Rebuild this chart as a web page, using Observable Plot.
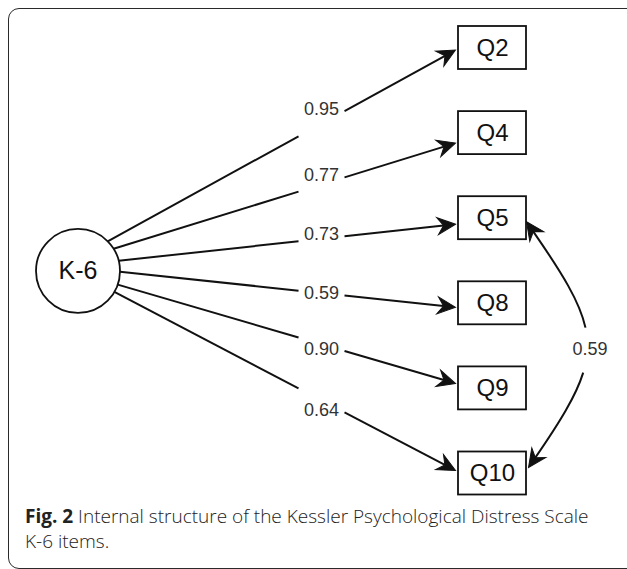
<!DOCTYPE html>
<html>
<head>
<meta charset="utf-8">
<script src="https://cdn.jsdelivr.net/npm/d3@7"></script>
<script src="https://cdn.jsdelivr.net/npm/@observablehq/plot@0.6"></script>
<style>
  html, body { margin: 0; padding: 0; background: #fff; overflow: hidden; }
  #page { position: relative; width: 627px; height: 569px; overflow: hidden; }
  #frame { position: absolute; left: 8px; top: 8px; width: 680px; height: 561px;
           border: 1.5px solid #2a2a2a; border-radius: 11px; box-sizing: border-box; }
  #chart { position: absolute; left: 0; top: 0; }
  #caption { position: absolute; left: 25px; top: 504px; width: 590px;
             font-family: "Open Sans", sans-serif; font-size: 19px; line-height: 25px;
             color: #222; font-weight: 300; }
  #caption b { font-weight: 700; }
  .nw { white-space: nowrap; }
</style>
</head>
<body>
<div id="page">
  <div id="frame"></div>
  <div id="chart"></div>
  <div id="caption"><b>Fig. 2</b> Internal structure of the Kessler Psychological Distress Scale <span class="nw">K-6</span> items.</div>
</div>
<script>
// ---- data ----
const latent = "K-6";
const items = ["Q2", "Q4", "Q5", "Q8", "Q9", "Q10"];
const loadings = [0.95, 0.77, 0.73, 0.59, 0.90, 0.64];
const covFrom = "Q5";
const covTo = "Q10";
const covValue = 0.59;

// ---- layout (abstract units: column 0 = latent, column 1 = items; rows) ----
const itemRow = [0, 1, 2, 3, 4, 5];
const latentRow = 2.62;
const labelCol = 0.5875;
const portAngle = [-45, -32, -14, 1, 19, 30];   // where each path leaves the circle (deg)
const tipShift = [2, 10, 6, 4, -5, -3];         // arrow tip offset from box middle (px)
const covTipShift = [3.5, -6];

const xDomain = [0, 1], xRange = [77.5, 492];
const yDomain = [0, 5], yRange = [47.5, 473];
const sx = d3.scaleLinear(xDomain, xRange);
const sy = d3.scaleLinear(yDomain, yRange);

const R = 42, bw = 34, bh = 21.5, headLen = 18, headW = 8.5, notch = 6, gapHalf = 23;
const ink = "#111";

const cx = sx(0), cy = sy(latentRow);
const paths = items.map((q, i) => {
  const a = portAngle[i] * Math.PI / 180;
  const S = [cx + R * Math.cos(a), cy + R * Math.sin(a)];
  const T = [sx(1) - bw - 3, sy(itemRow[i]) + tipShift[i]];
  const dx = T[0] - S[0], dy = T[1] - S[1], len = Math.hypot(dx, dy);
  const ux = dx / len, uy = dy / len;
  const atX = (x) => [x, S[1] + (x - S[0]) * dy / dx];
  const lx = sx(labelCol);
  const G1 = atX(lx - gapHalf), G2 = atX(lx + gapHalf);
  const N = [T[0] - ux * (headLen - notch), T[1] - uy * (headLen - notch)];
  return {item: q, loading: loadings[i], S, G1, G2, N, T,
          rot: Math.atan2(ux, -uy) * 180 / Math.PI, L: [lx, G2[1] - 2]};
});
const segments = paths.flatMap((p) => [{a: p.S, b: p.G1}, {a: p.G2, b: p.N}]);

// covariance curve (cubic Bezier bulging to the right)
const kHandle = 80, mHandle = 115;
const rowOf = (q) => itemRow[items.indexOf(q)];
const C0 = [sx(1) + bw, sy(rowOf(covFrom)) + covTipShift[0]];
const C3 = [sx(1) + bw + 2, sy(rowOf(covTo)) + covTipShift[1]];
function ctrl(P0, P3) {
  const s = P3[1] > P0[1] ? 1 : -1;
  return [P0, [P0[0] + kHandle, P0[1] + s * mHandle], [P3[0] + kHandle, P3[1] - s * mHandle], P3];
}
function bez(P, t) {
  const u = 1 - t;
  const c = [u * u * u, 3 * u * u * t, 3 * u * t * t, t * t * t];
  return [0, 1].map((k) => c[0] * P[0][k] + c[1] * P[1][k] + c[2] * P[2][k] + c[3] * P[3][k]);
}
const lerp = (a, b, t) => [a[0] + (b[0] - a[0]) * t, a[1] + (b[1] - a[1]) * t];
function split(P, t) {
  const p01 = lerp(P[0], P[1], t), p12 = lerp(P[1], P[2], t), p23 = lerp(P[2], P[3], t);
  const p012 = lerp(p01, p12, t), p123 = lerp(p12, p23, t), m = lerp(p012, p123, t);
  return [[P[0], p01, p012, m], [m, p123, p23, P[3]]];
}
function sub(P, ta, tb) {
  const left = split(P, tb)[0];
  return split(left, ta / tb)[1];
}
function tAtY(P, y) {
  let lo = 0, hi = 1;
  for (let k = 0; k < 40; k++) { const m = (lo + hi) / 2; (bez(P, m)[1] < y) ? lo = m : hi = m; }
  return (lo + hi) / 2;
}
const CP = ctrl(C0, C3);
const apex = bez(CP, 0.5);
const covLabel = [apex[0] + 2.5, apex[1] + 5];
const tGap1 = tAtY(CP, covLabel[1] - 22), tGap2 = tAtY(CP, covLabel[1] + 23);
const tTrim0 = (headLen - notch) / (3 * Math.hypot(kHandle, mHandle));
const tTrim1 = 1 - tTrim0;

function covCurve(context) {
  let pts = [];
  return {
    areaStart() {}, areaEnd() {},
    lineStart() { pts = []; },
    point(x, y) { pts.push([x, y]); },
    lineEnd() {
      const P = ctrl(pts[0], pts[pts.length - 1]);
      for (const [ta, tb] of [[tTrim0, tGap1], [tGap2, tTrim1]]) {
        const s = sub(P, ta, tb);
        context.moveTo(s[0][0], s[0][1]);
        context.bezierCurveTo(s[1][0], s[1][1], s[2][0], s[2][1], s[3][0], s[3][1]);
      }
    }
  };
}

const heads = [
  ...paths.map((p) => ({p: p.T, rot: p.rot})),
  {p: C0, rot: Math.atan2(CP[0][0] - CP[1][0], -(CP[0][1] - CP[1][1])) * 180 / Math.PI},
  {p: C3, rot: Math.atan2(CP[3][0] - CP[2][0], -(CP[3][1] - CP[2][1])) * 180 / Math.PI}
];
const vee = {
  draw(ctx, l) {
    ctx.moveTo(0, -l);
    ctx.lineTo(headW, 0);
    ctx.lineTo(0, -notch);
    ctx.lineTo(-headW, 0);
    ctx.closePath();
  }
};

const ix = (v) => sx.invert(v), iy = (v) => sy.invert(v);
const diagramFont = "Liberation Sans, Arial, Helvetica, sans-serif";

const chart = Plot.plot({
  width: 627,
  height: 500,
  margin: 0,
  x: {domain: xDomain, range: xRange, axis: null},
  y: {domain: yDomain, range: yRange, axis: null},
  style: {background: "transparent", overflow: "visible"},
  marks: [
    Plot.link(segments, {
      x1: (d) => ix(d.a[0]), y1: (d) => iy(d.a[1]),
      x2: (d) => ix(d.b[0]), y2: (d) => iy(d.b[1]),
      stroke: ink, strokeWidth: 2
    }),
    Plot.link([{from: covFrom, to: covTo}], {
      x1: () => ix(C0[0]), y1: () => iy(C0[1]),
      x2: () => ix(C3[0]), y2: () => iy(C3[1]),
      curve: covCurve, stroke: ink, strokeWidth: 2
    }),
    Plot.vector(heads, {
      x: (d) => ix(d.p[0]), y: (d) => iy(d.p[1]),
      rotate: (d) => d.rot, length: headLen, anchor: "end", shape: vee,
      fill: ink, stroke: ink, strokeWidth: 1, strokeLinejoin: "miter"
    }),
    Plot.dot([latent], {x: () => 0, y: () => latentRow, r: R,
      fill: "white", stroke: ink, strokeWidth: 1.8}),
    Plot.rect(items, {
      x1: () => 1, x2: () => 1, y1: (d, i) => itemRow[i], y2: (d, i) => itemRow[i],
      insetLeft: -bw, insetRight: -bw, insetTop: -bh, insetBottom: -bh,
      fill: "white", stroke: ink, strokeWidth: 1.8
    }),
    Plot.text(items, {x: () => 1, y: (d, i) => itemRow[i], text: (d) => d,
      fontSize: 24, fontFamily: diagramFont, fill: ink}),
    Plot.text([latent], {x: () => 0, y: () => latentRow, text: (d) => d,
      fontSize: 25, fontFamily: diagramFont, fill: ink}),
    Plot.text(paths, {x: (d) => ix(d.L[0]), y: (d) => iy(d.L[1]),
      text: (d) => d3.format(".2f")(d.loading),
      fontSize: 18, fontFamily: diagramFont, fill: "#333"}),
    Plot.text([covValue], {x: () => ix(covLabel[0]), y: () => iy(covLabel[1]),
      text: (d) => d3.format(".2f")(d),
      fontSize: 18, fontFamily: diagramFont, fill: "#333"})
  ]
});
document.getElementById("chart").appendChild(chart);
</script>
</body>
</html>
